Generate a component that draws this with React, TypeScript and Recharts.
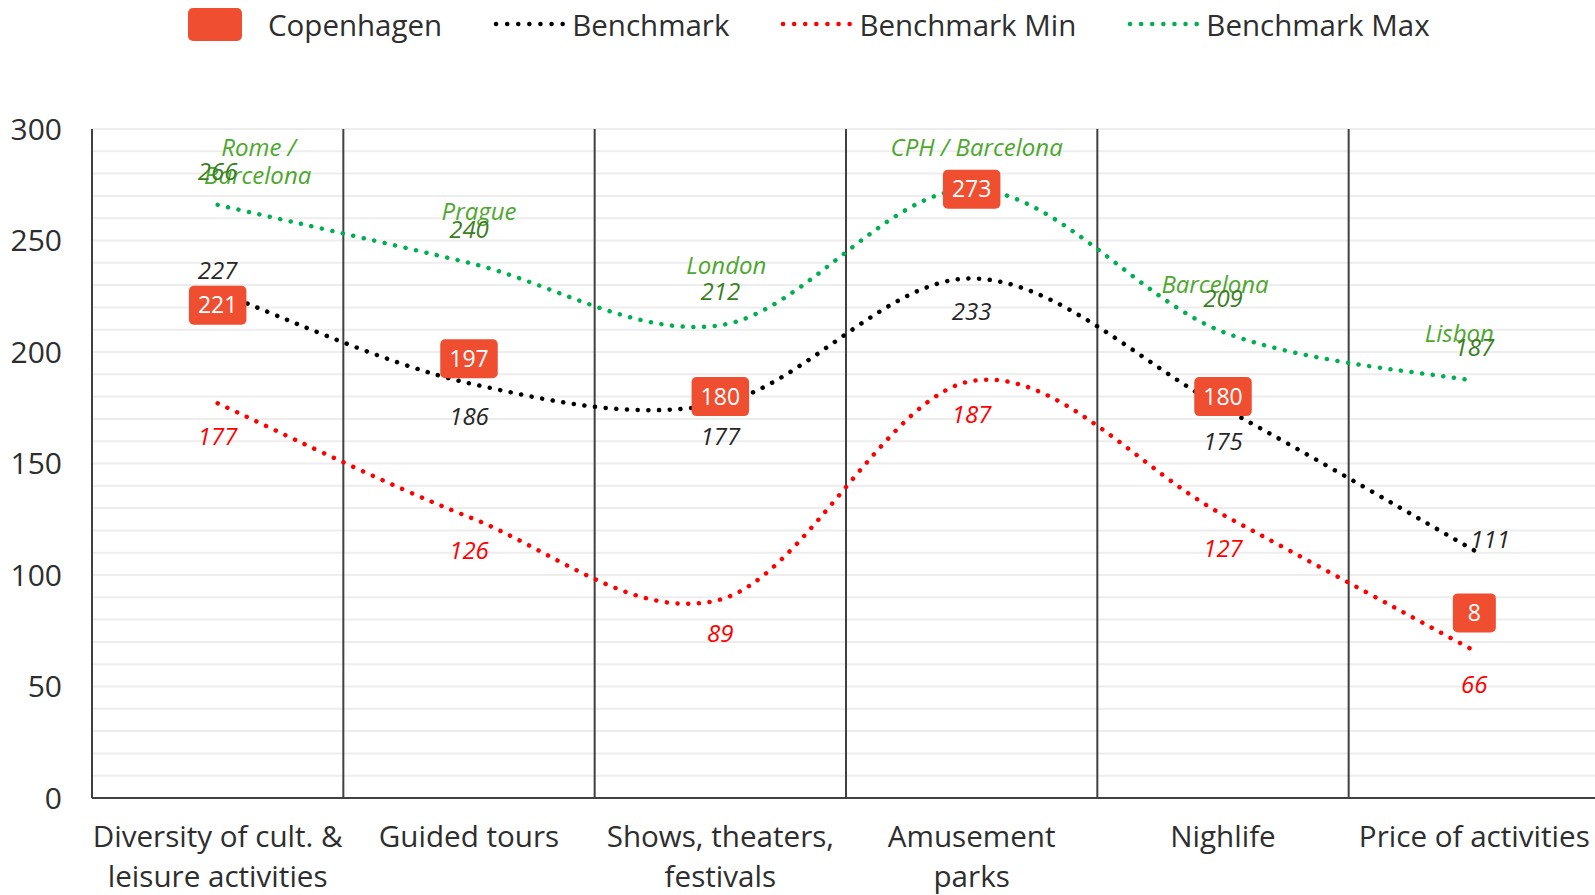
import React from "react";
import {
  LineChart,
  Line,
  XAxis,
  YAxis,
  CartesianGrid,
  ReferenceLine,
  LabelList,
  Legend,
} from "recharts";

// ---------- data ----------
const categories = [
  "Diversity of cult. &\nleisure activities",
  "Guided tours",
  "Shows, theaters,\nfestivals",
  "Amusement\nparks",
  "Nighlife",
  "Price of activities",
];
const copenhagen = [221, 197, 180, 273, 180, 83];
const copenhagenLabels = ["221", "197", "180", "273", "180", "8"];
const benchmark = [227, 186, 177, 233, 175, 111];
const benchmarkMin = [177, 126, 89, 187, 127, 66];
const benchmarkMax = [266, 240, 212, 273, 209, 187];
const maxCities = ["Rome /\nBarcelona", "Prague", "London", "CPH / Barcelona", "Barcelona", "Lisbon"];
const maxShowValue = [true, true, true, false, true, true];
const yLabelTicks = [0, 50, 100, 150, 200, 250, 300];
const yGridTicks = [0, 10, 20, 30, 40, 50, 60, 70, 80, 90, 100, 110, 120, 130, 140, 150, 160, 170, 180, 190, 200, 210, 220, 230, 240, 250, 260, 270, 280, 290, 300];
const separators = [1, 2, 3, 4, 5];

const seriesNames = ["Copenhagen", "Benchmark", "Benchmark Min", "Benchmark Max"];

// ---------- styles ----------
const FONT = "'Open Sans', 'Liberation Sans', sans-serif";
const ORANGE = "#F04E30";
const BLACK = "#000000";
const RED = "#FF0000";
const GREEN = "#00B050";
const NAME_GREEN = "#4EA72E";
const VALUE_GREEN = "#3B7D23";
const TEXT = "#2E2E2E";
const DOT_DASH = "0.1 10.6";
const LBL = 24;

// label placement styles (offsets in px relative to the point)
const benchLabelPos = ["top", "bottom", "bottom", "bottom", "bottom", "right"];
const maxNameOffsets: Array<Array<[number, number]>> = [
  [[41, -57], [40, -29]],
  [[10, -51]],
  [[6, -59]],
  [[5, -41]],
  [[-8, -47]],
  [[-15, -47]],
];

const data = categories.map((c, i) => ({
  pos: i + 0.5,
  category: c,
  copenhagen: copenhagen[i],
  benchmark: benchmark[i],
  benchmarkMin: benchmarkMin[i],
  benchmarkMax: benchmarkMax[i],
}));

// Excel-like smoothing (Catmull-Rom through the points)
function excelSmooth(context: any) {
  let pts: Array<[number, number]> = [];
  return {
    areaStart() {},
    areaEnd() {},
    lineStart() {
      pts = [];
    },
    lineEnd() {
      const n = pts.length;
      if (!n) return;
      context.moveTo(pts[0][0], pts[0][1]);
      if (n === 1) return;
      for (let i = 0; i < n - 1; i++) {
        const p0 = pts[i - 1] || pts[i];
        const p1 = pts[i];
        const p2 = pts[i + 1];
        const p3 = pts[i + 2] || pts[i + 1];
        const c1x = p1[0] + (p2[0] - p0[0]) / 6;
        const c1y = p1[1] + (p2[1] - p0[1]) / 6;
        const c2x = p2[0] - (p3[0] - p1[0]) / 6;
        const c2y = p2[1] - (p3[1] - p1[1]) / 6;
        context.bezierCurveTo(c1x, c1y, c2x, c2y, p2[0], p2[1]);
      }
    },
    point(x: number, y: number) {
      pts.push([+x, +y]);
    },
  };
}

const XTick = (props: any) => {
  const { x, y, payload } = props;
  const idx = Math.floor(payload.value);
  const lines = (categories[idx] || "").split("\n");
  return (
    <g>
      {lines.map((l, k) => (
        <text
          key={k}
          x={x}
          y={y + 49 + k * 40}
          textAnchor="middle"
          fontFamily={FONT}
          fontSize={29.6}
          fill={TEXT}
        >
          {l}
        </text>
      ))}
    </g>
  );
};

const CopenhagenLabel = (props: any) => {
  const { x, y, index } = props;
  if (x == null || y == null) return null;
  const t = copenhagenLabels[index];
  const w = Math.max(43, t.length * 12.5 + 20);
  const h = 39;
  return (
    <g>
      <rect x={x - w / 2} y={y - h / 2} width={w} height={h} rx={5} ry={5} fill={ORANGE} />
      <text
        x={x}
        y={y + 8}
        textAnchor="middle"
        fontFamily={FONT}
        fontSize={23}
        fill="#FFFFFF"
      >
        {t}
      </text>
    </g>
  );
};

const BenchLabel = (props: any) => {
  const { x, y, index, value } = props;
  if (x == null || y == null) return null;
  const pos = benchLabelPos[index];
  let tx = x;
  let ty = y;
  let anchor: any = "middle";
  if (pos === "top") ty = y - 21;
  else if (pos === "bottom") ty = y + 34;
  else if (pos === "right") {
    tx = x - 4;
    ty = y - 10;
    anchor = "start";
  }
  return (
    <text
      x={tx}
      y={ty + 8}
      textAnchor={anchor}
      fontFamily={FONT}
      fontStyle="italic"
      fontSize={LBL}
      fill="#262626"
    >
      {value}
    </text>
  );
};

const MinLabel = (props: any) => {
  const { x, y, value } = props;
  if (x == null || y == null) return null;
  return (
    <text
      x={x}
      y={y + 34 + 8}
      textAnchor="middle"
      fontFamily={FONT}
      fontStyle="italic"
      fontSize={LBL}
      fill={RED}
    >
      {value}
    </text>
  );
};

const MaxLabel = (props: any) => {
  const { x, y, index, value } = props;
  if (x == null || y == null) return null;
  const names = maxCities[index].split("\n");
  const offs = maxNameOffsets[index];
  return (
    <g fontFamily={FONT} fontStyle="italic" fontSize={LBL}>
      {names.map((n, k) => (
        <text
          key={k}
          x={x + offs[k][0]}
          y={y + offs[k][1] + 8}
          textAnchor="middle"
          fill={NAME_GREEN}
        >
          {n}
        </text>
      ))}
      {maxShowValue[index] && (
        <text x={x} y={y - 33 + 8} textAnchor="middle" fill={VALUE_GREEN}>
          {value}
        </text>
      )}
    </g>
  );
};

const legendColors = [ORANGE, BLACK, RED, GREEN];

const LegendContent = () => (
  <div
    style={{
      display: "flex",
      alignItems: "center",
      height: 48,
      paddingLeft: 188,
      fontFamily: FONT,
      fontSize: 29.5,
      color: TEXT,
      whiteSpace: "nowrap",
    }}
  >
    {seriesNames.map((name, i) => (
      <div key={name} style={{ display: "flex", alignItems: "center", marginRight: 51 }}>
        {i === 0 ? (
          <div
            style={{
              width: 54,
              height: 33,
              borderRadius: 5,
              background: legendColors[i],
              marginRight: 26,
            }}
          />
        ) : (
          <svg width={73} height={12} style={{ marginRight: 6 }}>
            <line
              x1={3}
              y1={6}
              x2={70}
              y2={6}
              stroke={legendColors[i]}
              strokeWidth={4.5}
              strokeLinecap="round"
              strokeDasharray="0.1 11"
            />
          </svg>
        )}
        <span>{name}</span>
      </div>
    ))}
  </div>
);

export default function App() {
  return (
    <div
      style={{
        position: "absolute",
        left: 0,
        top: 0,
        width: 1595,
        height: 895,
        overflow: "hidden",
        background: "#FFFFFF",
      }}
    >
      <LineChart
        width={1605}
        height={895}
        data={data}
        margin={{ top: 129, right: 5, bottom: 67, left: 0 }}
        style={{ fontFamily: FONT }}
      >
        <CartesianGrid vertical={false} stroke="#EDEDED" strokeWidth={2} />
        <XAxis
          type="number"
          dataKey="pos"
          domain={[0, 6]}
          ticks={data.map((d) => d.pos)}
          tick={<XTick />}
          tickLine={false}
          tickSize={0}
          tickMargin={0}
          height={30}
          axisLine={{ stroke: "#404040", strokeWidth: 2 }}
          interval={0}
          allowDecimals
        />
        <YAxis
          type="number"
          domain={[0, 300]}
          ticks={yGridTicks}
          interval={0}
          width={92}
          tickFormatter={(v: number) => (yLabelTicks.includes(v) ? String(v) : "")}
          tick={{ fontSize: 30, fill: TEXT, fontFamily: FONT }}
          tickLine={false}
          tickSize={0}
          tickMargin={30}
          axisLine={{ stroke: "#404040", strokeWidth: 2 }}
        />
        {separators.map((s) => (
          <ReferenceLine key={s} x={s} stroke="#404040" strokeWidth={2} ifOverflow="visible" />
        ))}
        <Legend
          verticalAlign="middle"
          layout="horizontal"
          content={<LegendContent />}
          wrapperStyle={{ position: "absolute", top: 0, left: 0, width: 1595, height: 48 }}
        />
        <Line
          dataKey="benchmarkMax"
          name="Benchmark Max"
          type={excelSmooth as any}
          stroke={GREEN}
          strokeWidth={4.5}
          strokeLinecap="round"
          strokeDasharray={DOT_DASH}
          dot={false}
          activeDot={false}
          isAnimationActive={false}
        >
          <LabelList dataKey="benchmarkMax" content={<MaxLabel />} />
        </Line>
        <Line
          dataKey="benchmark"
          name="Benchmark"
          type={excelSmooth as any}
          stroke={BLACK}
          strokeWidth={4.5}
          strokeLinecap="round"
          strokeDasharray={DOT_DASH}
          dot={false}
          activeDot={false}
          isAnimationActive={false}
        >
          <LabelList dataKey="benchmark" content={<BenchLabel />} />
        </Line>
        <Line
          dataKey="benchmarkMin"
          name="Benchmark Min"
          type={excelSmooth as any}
          stroke={RED}
          strokeWidth={4.5}
          strokeLinecap="round"
          strokeDasharray={DOT_DASH}
          dot={false}
          activeDot={false}
          isAnimationActive={false}
        >
          <LabelList dataKey="benchmarkMin" content={<MinLabel />} />
        </Line>
        <Line
          dataKey="copenhagen"
          name="Copenhagen"
          stroke="none"
          dot={false}
          activeDot={false}
          isAnimationActive={false}
        >
          <LabelList dataKey="copenhagen" content={<CopenhagenLabel />} />
        </Line>
      </LineChart>
    </div>
  );
}
